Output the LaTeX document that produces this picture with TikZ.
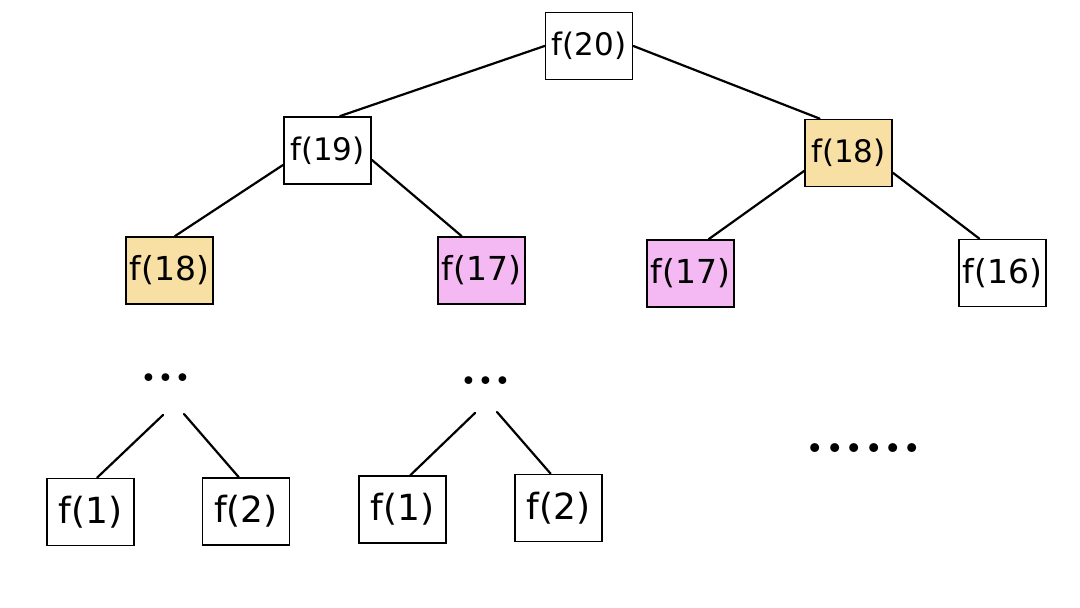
\documentclass[tikz,border=0pt]{standalone}
\usepackage{fontspec}
\setmainfont{DejaVu Sans}
\newfontfamily\dotfont{Latin Modern Roman}
\definecolor{boxyellow}{RGB}{248,224,164}
\definecolor{boxpink}{RGB}{244,184,243}
\begin{document}
\begin{tikzpicture}[x=1pt,y=1pt,
  fbox/.style={draw=black,line width=1.8pt,rectangle,minimum width=87pt,minimum height=67pt,inner sep=0pt,fill=white},
  top/.style={font=\fontsize{31}{31}\selectfont},
  mid/.style={font=\fontsize{33}{33}\selectfont},
  low/.style={font=\fontsize{36}{36}\selectfont},
  yel/.style={fill=boxyellow},
  pnk/.style={fill=boxpink},
  edge/.style={line width=2.2pt,line cap=round},
  dots/.style={anchor=base,inner sep=0pt}]
\fill[white] (0,0) rectangle (1080,-608);
\useasboundingbox (0,0) rectangle (1080,-608);

\node[fbox,top] (f20) at (589,-46) {f(20)};
\node[fbox,top] (f19) at (327.5,-150.5) {f(19)};
\node[fbox,top,yel] (f18R) at (848.5,-153) {f(18)};
\node[fbox,mid,yel] (f18L) at (169.5,-270.5) {f(18)};
\node[fbox,mid,pnk] (f17M) at (481.5,-270.5) {f(17)};
\node[fbox,mid,pnk] (f17R) at (690.5,-273.5) {f(17)};
\node[fbox,mid] (f16) at (1002.5,-273) {f(16)};
\node[fbox,low] (f1L) at (90.5,-512) {f(1)};
\node[fbox,low] (f2L) at (246,-511.5) {f(2)};
\node[fbox,low] (f1M) at (402.5,-509.5) {f(1)};
\node[fbox,low] (f2M) at (558.5,-508) {f(2)};

\node[dots,font=\dotfont\bfseries\fontsize{54}{54}\selectfont] (dL) at (166,-381) {...};
\node[dots,font=\dotfont\bfseries\fontsize{54}{54}\selectfont] (dM) at (486,-384) {...};
\node[dots,font=\dotfont\bfseries\fontsize{62}{62}\selectfont] (dR) at (864,-452) {......};

\coordinate (aL1) at (163,-415);
\coordinate (aL2) at (184,-414);
\coordinate (aM1) at (475,-413);
\coordinate (aM2) at (497,-412);

\draw[edge] (f20.west) -- (f19.70);
\draw[edge] (f20.east) -- (f18R.130);
\draw[edge] (f19.198) -- (f18L.81);
\draw[edge] (f19.348) -- (f17M.120);
\draw[edge] (f18R.202) -- (f17R.62);
\draw[edge] (f18R.336) -- (f16.124);
\draw[edge] (aL1) -- (f1L.79);
\draw[edge] (aL2) -- (f2L.102);
\draw[edge] (aM1) -- (f1M.77);
\draw[edge] (aM2) -- (f2M.103);
\end{tikzpicture}
\end{document}
